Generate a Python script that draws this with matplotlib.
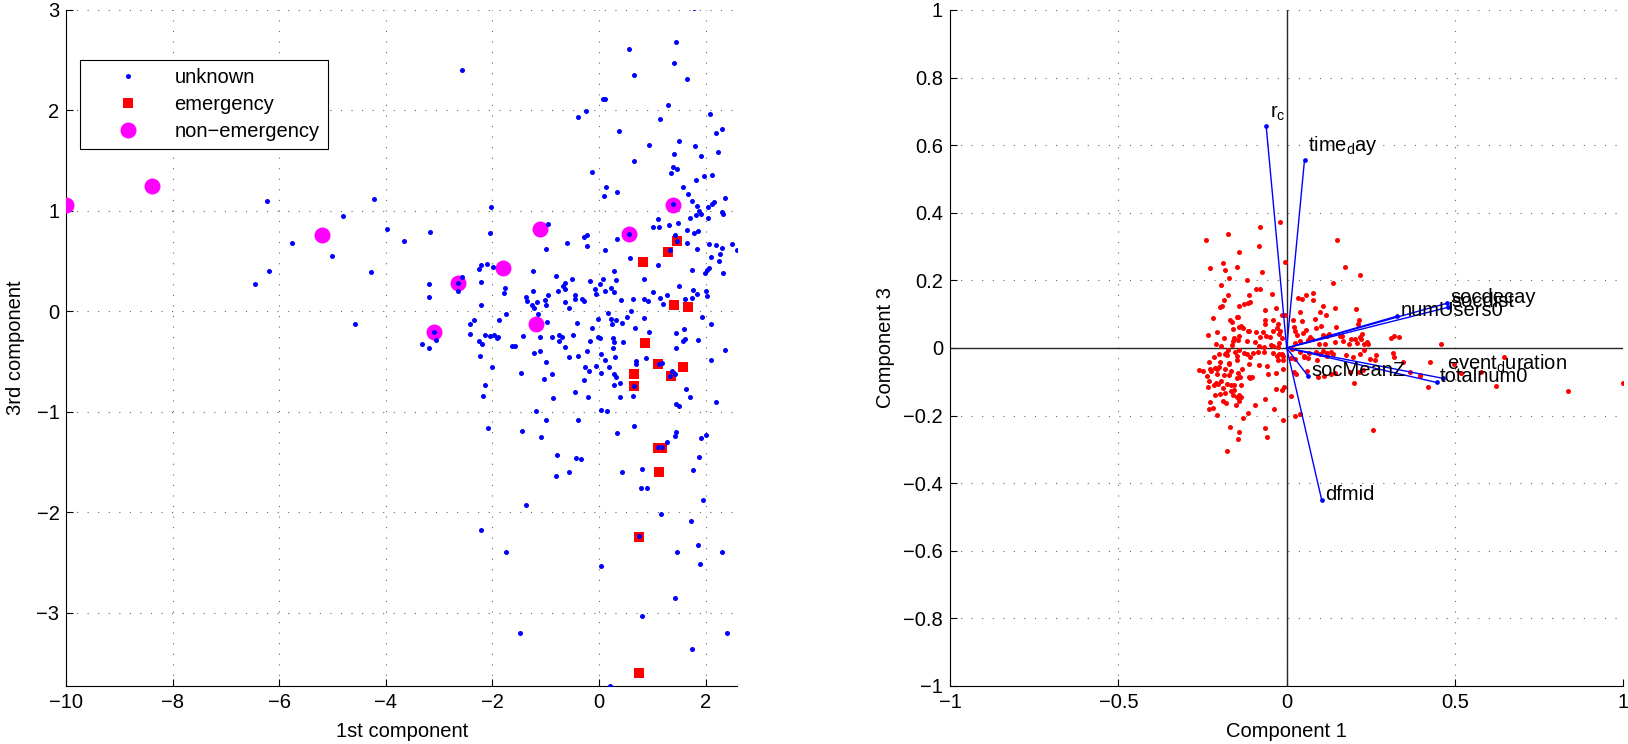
import numpy as np
import matplotlib
matplotlib.use('Agg')
import matplotlib.pyplot as plt
from matplotlib.ticker import FuncFormatter

plt.rcParams['font.family'] = ['Liberation Sans', 'DejaVu Sans']
plt.rcParams['font.size'] = 14.5
plt.rcParams['mathtext.default'] = 'regular'

# ---- left panel: PCA scores (1st vs 3rd component) ----
unknown = [
    (-6.23, 1.10), (-6.20, 0.40), (-6.46, 0.275), (-5.77, 0.68), (-5.01, 0.55), (-4.80, 0.95),
    (-4.58, -0.13), (-4.23, 1.12), (-4.28, 0.39), (-3.98, 0.82), (-3.66, 0.70), (-3.18, 0.79),
    (-3.19, 0.27), (-3.19, 0.14), (-3.33, -0.33), (-3.19, -0.37), (-3.06, -0.29), (-3.10, -0.21),
    (-2.57, 2.40), (-2.02, 1.04), (-2.05, 0.78), (-0.96, 0.87),
    (1.79, 3.02), (1.45, 2.68), (0.57, 2.61), (1.40, 2.47), (0.65, 2.35), (1.66, 2.31),
    (0.075, 2.11), (0.11, 2.11), (1.30, 2.05), (-0.24, 1.99), (-0.39, 1.93), (1.15, 1.91),
    (2.08, 1.96), (0.38, 1.80), (2.19, 1.78), (2.30, 1.81), (1.50, 1.70), (0.94, 1.66),
    (1.80, 1.65), (1.40, 1.57), (1.91, 1.55), (2.23, 1.59), (0.66, 1.50), (-0.14, 1.39),
    (1.39, 1.44), (1.47, 1.42), (1.35, 1.38), (2.12, 1.36), (1.98, 1.35), (1.82, 1.31),
    (1.57, 1.24), (0.14, 1.24), (0.10, 1.15), (0.33, 1.19), (1.67, 1.17), (1.74, 1.10),
    (1.84, 1.05), (2.12, 1.07), (2.16, 1.09), (2.36, 1.13), (1.38, 1.065), (1.88, 1.00),
    (1.92, 0.97), (1.82, 0.955), (2.04, 1.04), (2.30, 0.985), (2.33, 0.97), (2.05, 0.93),
    (1.10, 0.92), (1.71, 0.925), (1.48, 0.88), (1.02, 0.84), (1.13, 0.84), (1.32, 0.86),
    (1.65, 0.81), (1.79, 0.78), (1.86, 0.80), (-0.29, 0.74), (-0.23, 0.76), (0.33, 0.72),
    (0.56, 0.77), (1.42, 0.76),
    (-0.60, 0.68), (-1.00, 0.62), (-2.21, 0.465), (-2.10, 0.47), (-2.26, 0.42), (-1.99, 0.44),
    (-1.24, 0.40), (-0.80, 0.35), (-2.58, 0.34), (-2.64, 0.285), (-2.65, 0.20), (-2.22, 0.29),
    (-1.77, 0.23), (-1.79, 0.18), (-1.24, 0.20), (-0.95, 0.165), (-0.77, 0.20), (-0.68, 0.25),
    (-0.645, 0.28), (-0.63, 0.22), (-1.38, 0.14), (-1.35, 0.10), (-1.02, 0.11), (-1.16, 0.09),
    (-1.25, 0.06), (-1.23, 0.03), (-1.00, 0.065), (-0.64, 0.09), (-0.57, 0.03), (-2.22, 0.06),
    (-1.75, -0.025), (-1.14, -0.025), (-2.35, -0.085), (-1.87, -0.085), (-2.43, -0.13),
    (-0.98, -0.105), (-2.43, -0.23), (-2.14, -0.24), (-2.04, -0.25), (-1.97, -0.24),
    (-1.91, -0.27), (-1.89, -0.26), (-2.25, -0.30), (-2.20, -0.33), (-1.43, -0.25), (-1.11, -0.26),
    (-0.88, -0.26), (-0.75, -0.24), (-0.69, -0.26), (-0.75, -0.30), (-1.64, -0.35), (-1.57, -0.35),
    (-0.645, -0.36), (-2.24, -0.44), (-1.22, -0.42), (-1.11, -0.40), (-0.57, -0.45), (-2.01, -0.55),
    (-0.99, -0.50), (-1.47, -0.615), (-0.88, -0.62), (-1.04, -0.675), (-2.14, -0.73), (-2.17, -0.84),
    (-0.86, -0.86), (-1.19, -0.99), (-1.00, -1.08), (-2.08, -1.165), (-1.45, -1.19), (-1.08, -1.25),
    (-0.79, -1.43),
    (-0.23, 0.65), (0.11, 0.61), (1.47, 0.70), (1.65, 0.68), (1.33, 0.61), (1.84, 0.62),
    (2.06, 0.67), (2.20, 0.66), (2.30, 0.63), (2.50, 0.67), (2.60, 0.61), (2.28, 0.57),
    (2.10, 0.54), (2.26, 0.505), (0.58, 0.53), (1.10, 0.46), (1.74, 0.41), (2.02, 0.41),
    (2.07, 0.43), (1.99, 0.38), (2.32, 0.38), (0.28, 0.40), (-0.50, 0.32), (0.08, 0.32),
    (0.31, 0.31), (0.84, 0.32), (-0.16, 0.30), (0.01, 0.27), (-0.08, 0.22), (0.11, 0.20),
    (0.23, 0.23), (0.28, 0.19), (-0.06, 0.17), (-0.46, 0.16), (-0.45, 0.125), (-0.32, 0.125),
    (-0.28, 0.10), (0.42, 0.11), (0.645, 0.12), (0.85, 0.12), (0.92, 0.10), (1.01, 0.19),
    (1.15, 0.13), (1.28, 0.16), (1.21, 0.07), (1.50, 0.25), (1.76, 0.21), (1.84, 0.17),
    (2.00, 0.20), (2.02, 0.15), (1.61, 0.125), (1.75, 0.13), (0.16, -0.02), (0.61, 0.00),
    (0.52, -0.055), (0.84, -0.07), (0.22, -0.08), (0.31, -0.09), (0.43, -0.115), (-0.01, -0.08),
    (-0.42, -0.12), (0.245, -0.13), (1.94, -0.055), (2.11, -0.13), (-0.14, -0.17), (0.68, -0.17),
    (0.93, -0.21), (1.45, -0.22), (1.60, -0.18), (-0.49, -0.24), (-0.02, -0.26), (0.02, -0.27),
    (0.26, -0.27), (-0.16, -0.30), (0.28, -0.31), (0.45, -0.31), (1.61, -0.28), (1.57, -0.30),
    (1.86, -0.29), (0.26, -0.37), (1.44, -0.37), (-0.23, -0.40), (-0.39, -0.44), (0.03, -0.43),
    (0.30, -0.45), (0.12, -0.48), (0.89, -0.46), (0.70, -0.49), (0.70, -0.52), (2.36, -0.39),
    (2.10, -0.48), (1.12, -0.525), (1.18, -0.51), (-0.27, -0.55), (-0.05, -0.54), (0.19, -0.555),
    (-0.19, -0.59), (0.045, -0.61), (0.28, -0.62), (0.32, -0.655), (1.37, -0.59), (1.42, -0.62),
    (1.33, -0.64), (-0.29, -0.68), (0.39, -0.71), (0.28, -0.73), (0.66, -0.74), (1.64, -0.77),
    (-0.46, -0.80), (1.70, -0.85), (-0.21, -0.85), (0.40, -0.85), (0.64, -0.84), (2.19, -0.90),
    (1.44, -0.92), (1.50, -0.94), (0.04, -0.98), (0.145, -0.99), (-0.39, -1.08), (0.66, -1.145),
    (0.33, -1.21), (1.44, -1.20), (1.43, -1.245), (2.00, -1.23), (1.91, -1.26), (1.27, -1.30),
    (1.11, -1.35), (1.19, -1.35), (-0.44, -1.46), (-0.33, -1.47), (1.87, -1.45),
    (-0.80, -1.64), (-0.57, -1.60), (-1.38, -1.93), (-2.21, -2.18), (-1.75, -2.40), (-1.49, -3.20),
    (0.43, -1.60), (0.815, -1.57), (1.76, -1.58), (0.78, -1.755), (0.91, -1.755), (1.95, -1.88),
    (1.17, -2.02), (1.72, -2.09), (0.745, -2.24), (1.85, -2.33), (1.47, -2.40), (2.30, -2.40),
    (0.04, -2.54), (1.89, -2.52), (1.42, -2.855), (0.815, -3.03), (2.40, -3.20), (1.75, -3.365),
    (0.21, -3.73),
]
emergency = [
    (0.83, 0.49), (1.30, 0.59), (1.47, 0.70), (1.41, 0.06), (1.68, 0.045), (0.87, -0.32),
    (0.65, -0.625), (0.66, -0.74), (1.10, -0.525), (1.36, -0.645), (1.58, -0.55), (1.10, -1.36),
    (1.19, -1.36), (1.13, -1.60), (0.75, -2.25), (0.76, -3.60),
]
non_emergency = [
    (-10.0, 1.06), (-8.39, 1.245), (-5.21, 0.76), (-3.10, -0.21), (-2.64, 0.285), (-1.80, 0.43),
    (-1.18, -0.125), (-1.10, 0.82), (0.56, 0.77), (1.38, 1.06),
]

# ---- right panel: biplot (component 1 vs component 3) ----
var_names = ['r_c', 'time_day', 'socdecay', 'socdist', 'numUsers0',
             'event_duration', 'totalnum0', 'socMeanZ', 'dfmid']
var_c1 = [-0.061, 0.053, 0.475, 0.478, 0.327, 0.465, 0.445, 0.064, 0.104]
var_c3 = [0.657, 0.557, 0.132, 0.120, 0.094, -0.090, -0.102, -0.084, -0.450]

obs_scores = [
    (-0.021, 0.372), (-0.079, 0.359), (-0.174, 0.336), (-0.239, 0.319), (-0.082, 0.302),
    (-0.142, 0.284), (-0.004, 0.253), (-0.229, 0.238), (-0.189, 0.251), (-0.184, 0.232),
    (-0.148, 0.239), (-0.074, 0.224), (-0.171, 0.207), (-0.118, 0.201), (-0.194, 0.187),
    (-0.090, 0.174), (-0.078, 0.174), (-0.174, 0.156), (-0.113, 0.158), (-0.044, 0.159),
    (-0.186, 0.143), (-0.108, 0.135), (-0.116, 0.134), (-0.127, 0.129), (-0.143, 0.123),
    (-0.199, 0.121), (-0.191, 0.123), (-0.065, 0.113), (-0.032, 0.119), (-0.218, 0.089),
    (-0.169, 0.084), (-0.163, 0.078), (-0.149, 0.093), (-0.144, 0.092), (-0.013, 0.098),
    (-0.005, 0.098), (-0.065, 0.083), (-0.042, 0.083), (-0.025, 0.071), (-0.064, 0.071),
    (-0.141, 0.061), (-0.136, 0.064), (-0.131, 0.058), (-0.158, 0.055), (-0.116, 0.051),
    (-0.111, 0.050), (-0.090, 0.046), (-0.069, 0.048), (-0.041, 0.051), (-0.029, 0.058),
    (-0.020, 0.050), (-0.208, 0.047), (-0.235, 0.038), (-0.187, 0.030), (-0.156, 0.029),
    (-0.143, 0.036), (-0.145, 0.024), (-0.158, 0.020), (-0.119, 0.021), (-0.093, 0.019),
    (-0.080, 0.031), (-0.060, 0.035), (-0.050, 0.031), (-0.023, 0.040), (-0.015, 0.029),
    (-0.023, 0.014), (-0.211, 0.011), (-0.194, 0.005), (-0.161, 0.009), (-0.175, -0.005),
    (-0.141, -0.005), (-0.083, 0.005), (-0.066, 0.002), (-0.046, 0.009), (-0.040, 0.005),
    (-0.025, 0.002), (-0.067, -0.012), (-0.041, -0.014), (-0.015, -0.017), (-0.010, -0.023),
    (-0.179, -0.015), (-0.202, -0.019), (-0.182, -0.019), (-0.177, -0.021), (-0.154, -0.011),
    (-0.127, -0.016), (-0.119, -0.018), (-0.100, -0.014), (-0.084, -0.013), (-0.149, -0.025),
    (-0.109, -0.026), (-0.030, -0.024), (-0.022, -0.018), (-0.215, -0.027), (-0.197, -0.041),
    (-0.170, -0.043), (-0.231, -0.041), (-0.213, -0.059), (-0.227, -0.063), (-0.200, -0.057),
    (-0.171, -0.046), (-0.147, -0.037), (-0.111, -0.048), (-0.083, -0.050), (-0.026, -0.035),
    (-0.012, -0.036), (-0.259, -0.064), (-0.249, -0.069), (-0.224, -0.067), (-0.208, -0.063),
    (-0.184, -0.063), (-0.165, -0.069), (-0.146, -0.073), (-0.132, -0.063), (-0.059, -0.053),
    (-0.033, -0.073), (-0.012, -0.063), (-0.185, -0.081), (-0.171, -0.079), (-0.238, -0.082),
    (-0.206, -0.077), (-0.148, -0.090), (-0.140, -0.085), (-0.113, -0.086), (-0.103, -0.085),
    (-0.056, -0.078), (-0.232, -0.098), (-0.209, -0.103), (-0.194, -0.097), (-0.176, -0.106),
    (-0.166, -0.110), (-0.155, -0.110), (-0.136, -0.110), (-0.189, -0.118), (-0.235, -0.114),
    (-0.215, -0.110), (-0.204, -0.108), (-0.109, -0.089), (-0.165, -0.127), (-0.157, -0.124),
    (-0.033, -0.121), (-0.014, -0.124), (-0.213, -0.138), (-0.198, -0.137), (-0.182, -0.133),
    (-0.158, -0.139), (-0.147, -0.144), (-0.141, -0.140), (-0.137, -0.145), (-0.009, -0.115),
    (-0.227, -0.160), (-0.189, -0.156), (-0.143, -0.157), (-0.179, -0.164), (-0.151, -0.169),
    (-0.230, -0.182), (-0.219, -0.178), (-0.094, -0.168), (-0.065, -0.152), (-0.038, -0.182),
    (-0.208, -0.198), (-0.129, -0.207), (-0.115, -0.191), (-0.011, -0.213), (-0.167, -0.233),
    (-0.141, -0.249), (-0.146, -0.269), (-0.065, -0.238), (-0.057, -0.262), (-0.178, -0.304),
    (0.149, 0.319), (0.173, 0.239), (0.219, 0.217), (0.137, 0.192), (0.033, 0.148),
    (0.045, 0.146), (0.056, 0.157), (0.077, 0.162), (0.078, 0.142), (0.108, 0.123),
    (0.143, 0.118), (0.207, 0.115), (0.039, 0.107), (0.099, 0.107), (0.116, 0.098),
    (0.019, 0.084), (0.044, 0.079), (0.084, 0.086), (0.214, 0.084), (0.022, 0.061),
    (0.102, 0.066), (0.146, 0.061), (0.212, 0.071), (0.025, 0.050), (0.057, 0.053),
    (0.088, 0.060), (0.032, 0.037), (0.049, 0.045), (0.069, 0.032), (0.107, 0.038),
    (0.120, 0.035), (0.127, 0.040), (0.157, 0.034), (0.165, 0.034), (0.190, 0.028),
    (0.203, 0.027), (0.217, 0.032), (0.223, 0.041), (0.222, 0.028), (0.239, 0.019),
    (0.310, 0.030), (0.318, 0.036), (0.333, 0.031), (0.024, 0.015), (0.039, 0.022),
    (0.064, 0.025), (0.074, 0.027), (0.095, 0.011), (0.114, 0.012), (0.142, 0.019),
    (0.168, 0.022), (0.185, 0.012), (0.209, 0.016), (0.229, 0.012), (0.241, 0.012),
    (0.017, -0.003), (0.039, -0.013), (0.052, -0.025), (0.066, -0.016), (0.087, -0.013),
    (0.099, -0.018), (0.109, -0.008), (0.121, -0.014), (0.133, -0.013), (0.119, -0.025),
    (0.138, -0.018), (0.175, -0.021), (0.197, -0.028), (0.218, -0.018), (0.231, -0.006),
    (0.248, -0.034), (0.264, -0.021), (0.261, -0.037), (0.316, -0.016), (0.318, -0.028),
    (0.344, -0.041), (0.050, -0.028), (0.024, -0.032), (0.064, -0.030), (0.090, -0.036),
    (0.014, -0.031), (0.022, -0.072), (0.028, -0.077), (0.059, -0.069), (0.094, -0.087),
    (0.110, -0.082), (0.132, -0.077), (0.144, -0.074), (0.188, -0.072), (0.214, -0.072),
    (0.226, -0.066), (0.367, -0.071), (0.397, -0.081), (0.201, -0.105), (0.013, -0.141),
    (0.025, -0.201), (0.040, -0.194),
    (0.457, 0.011), (0.426, -0.041), (0.420, -0.114), (0.644, -0.028), (0.621, -0.113),
    (0.835, -0.126), (0.577, -0.070), (0.518, -0.075), (0.396, -0.082), (0.498, -0.048),
    (0.255, -0.242), (1.000, -0.105),
]

x1_ticks = [-10, -8, -6, -4, -2, 0, 2]
y1_ticks = [-3, -2, -1, 0, 1, 2, 3]
x2_ticks = [-1, -0.5, 0, 0.5, 1]
y2_ticks = [-1, -0.8, -0.6, -0.4, -0.2, 0, 0.2, 0.4, 0.6, 0.8, 1]

unk = np.array(unknown)
emg = np.array(emergency)
nem = np.array(non_emergency)
obs = np.array(obs_scores)


def matlab_fmt(v, _):
    s = '%g' % v
    if s in ('-0', '0'):
        return '0'
    return s.replace('-', '\u2212')


def style_axes(ax):
    ax.grid(True, linestyle=(0, (1, 8.5)), color='0.4', linewidth=0.8)
    ax.set_axisbelow(True)
    for s in ('top', 'right'):
        ax.spines[s].set_visible(False)
    for s in ('left', 'bottom'):
        ax.spines[s].set_linewidth(0.8)
    ax.tick_params(direction='in', length=5, width=0.8, pad=5, labelsize=14.5)
    ax.xaxis.set_major_formatter(FuncFormatter(matlab_fmt))
    ax.yaxis.set_major_formatter(FuncFormatter(matlab_fmt))


fig = plt.figure(figsize=(16.28, 7.44), dpi=100)
ax1 = fig.add_axes([0.0408, 0.078, 0.4122, 0.9086])
ax2 = fig.add_axes([0.5835, 0.078, 0.4137, 0.9086])

# left
h_unk, = ax1.plot(unk[:, 0], unk[:, 1], 'o', color='blue', ms=3.6, mew=0, ls='none',
                  zorder=4, label='unknown')
h_emg, = ax1.plot(emg[:, 0], emg[:, 1], 's', color='red', ms=7, mew=0, ls='none',
                  zorder=3, label='emergency')
h_nem, = ax1.plot(nem[:, 0], nem[:, 1], 'o', color='magenta', ms=11.5, mew=0, ls='none',
                  zorder=3, label='non\u2212emergency')
ax1.set_xlim(-10, 2.6)
ax1.set_ylim(-3.73, 3)
ax1.set_xticks(x1_ticks)
ax1.set_yticks(y1_ticks)
style_axes(ax1)
ax1.set_xlabel('1st component')
ax1.set_ylabel('3rd component')
ax1.xaxis.set_label_coords(0.5, -0.053)
ax1.yaxis.set_label_coords(-0.061, 0.5)
leg = ax1.legend(handles=[h_unk, h_emg, h_nem], loc='upper left',
                 bbox_to_anchor=(0.020, 0.926), borderaxespad=0, fancybox=False,
                 framealpha=1, edgecolor='black', handlelength=4, handletextpad=0.3,
                 labelspacing=0.4, borderpad=0.4, fontsize=14.5)
leg.get_frame().set_linewidth(0.8)

# right
ax2.axhline(0, color='0.15', lw=1, zorder=1)
ax2.axvline(0, color='0.15', lw=1, zorder=1)
ax2.plot(obs[:, 0], obs[:, 1], 'o', color='red', ms=3.6, mew=0, ls='none', zorder=2)
for name, c1, c3 in zip(var_names, var_c1, var_c3):
    ax2.plot([0, c1], [0, c3], '-', color='blue', lw=1, zorder=3)
    ax2.plot([c1], [c3], 'o', color='blue', ms=3.4, mew=0, zorder=3)
    if '_' in name:
        head, tail = name.split('_', 1)
        label = head + '$_{' + tail[0] + '}$' + tail[1:]
        dy = 6
    else:
        label = name
        dy = 0
    ax2.annotate(label, (c1, c3), xytext=(2.5, dy), textcoords='offset points',
                 ha='left', va='baseline', fontsize=14.5, zorder=5)
ax2.set_xlim(-1, 1)
ax2.set_ylim(-1, 1)
ax2.set_xticks(x2_ticks)
ax2.set_yticks(y2_ticks)
style_axes(ax2)
ax2.set_xlabel('Component 1')
ax2.set_ylabel('Component 3')
ax2.xaxis.set_label_coords(0.5, -0.053)
ax2.yaxis.set_label_coords(-0.0817, 0.5)

fig.savefig('out.png', dpi=100)
